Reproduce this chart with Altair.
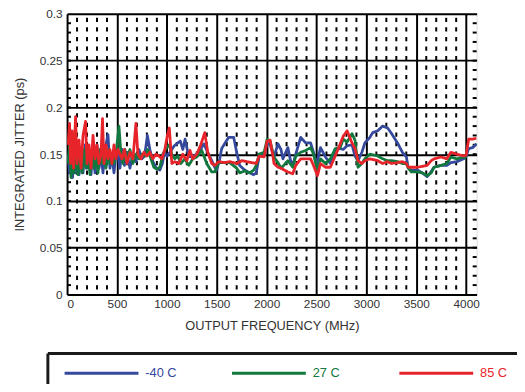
import altair as alt
import pandas as pd

# ---------------- data ----------------
series_names = ["-40 C", "27 C", "85 C"]
series_colors = ["#35499d", "#11793d", "#e8242b"]

freq_m40 = [10, 25, 40, 55, 70, 85, 100, 120, 140, 160, 180, 200, 220, 240, 260, 280, 300, 320, 340, 360, 380, 410, 430, 450, 470, 490,
            510, 530, 550, 575, 600, 630, 660, 690, 720, 750, 777, 805, 830, 860, 895, 930, 955, 975, 1000, 1030,
            1075, 1110, 1135, 1160, 1183, 1210, 1232, 1272, 1320, 1370, 1410, 1450, 1480, 1500, 1530, 1550, 1590, 1620, 1670, 1700,
            1730, 1780, 1830, 1870, 1896, 1926, 1975, 2005, 2035, 2074, 2114, 2144, 2163, 2213, 2240, 2262, 2292, 2342, 2391, 2441,
            2470, 2500, 2540, 2589, 2639, 2688, 2738, 2767, 2807, 2856, 2886, 2916, 2955, 2985, 3035, 3064, 3114, 3163, 3213, 3252,
            3312, 3361, 3401, 3420, 3450, 3510, 3560, 3609, 3640, 3678, 3748, 3807, 3847, 3906, 3975, 4000, 4025, 4064, 4105]
jit_m40 = [.15, .13, .165, .125, .155, .13, .16, .128, .15, .13, .16, .135, .15, .128, .155, .13, .16, .135, .15, .13, .155, .171, .135, .15, .13, .15,
           .15, .135, .155, .138, .152, .135, .15, .142, .155, .145, .148, .17, .155, .142, .135, .133, .14, .152, .148, .152,
           .159, .162, .164, .155, .166, .152, .147, .148, .152, .161, .152, .143, .136, .133, .145, .156, .163, .168, .168, .152,
           .138, .133, .13, .128, .13, .148, .15, .162, .16, .147, .161, .155, .145, .157, .143, .138, .15, .168, .162, .162,
           .152, .138, .157, .147, .14, .155, .156, .155, .159, .16, .148, .143, .152, .162, .168, .173, .175, .18, .178, .172,
           .162, .152, .147, .135, .133, .133, .13, .126, .13, .136, .138, .138, .141, .142, .145, .148, .156, .157, .161]

freq_27 = [10, 25, 40, 55, 70, 90, 110, 130, 150, 170, 190, 210, 230, 250, 270, 290, 310, 330, 350, 370, 390, 410, 430, 450, 470, 490, 520,
           540, 560, 580, 600, 630, 660, 690, 720, 750, 780, 810, 840, 870, 900, 930, 960, 990, 1025, 1050, 1080,
           1110, 1140, 1180, 1220, 1260, 1300, 1350, 1400, 1450, 1480, 1520, 1580, 1630, 1700, 1730, 1780, 1830, 1870, 1896, 1926,
           1975, 2005, 2035, 2074, 2114, 2144, 2163, 2213, 2262, 2292, 2342, 2391, 2441, 2470, 2510, 2540, 2589, 2639, 2688, 2738,
           2767, 2807, 2856, 2886, 2916, 2955, 2985, 3035, 3114, 3163, 3213, 3252, 3312, 3361, 3401, 3420, 3450, 3510, 3560, 3609,
           3650, 3678, 3748, 3807, 3847, 3906, 3975, 4000]
jit_27 = [.14, .16, .125, .15, .13, .155, .128, .15, .13, .155, .135, .15, .128, .155, .135, .15, .13, .155, .14, .15, .135, .155, .14, .15, .14, .15, .18,
          .15, .14, .155, .145, .155, .14, .15, .145, .15, .148, .155, .145, .136, .134, .136, .15, .156, .16, .15, .145,
          .148, .14, .145, .138, .145, .147, .154, .14, .131, .131, .141, .141, .141, .135, .13, .132, .13, .133, .138, .15,
          .152, .166, .164, .147, .141, .135, .137, .143, .136, .148, .152, .154, .157, .15, .133, .145, .14, .145, .156, .157,
          .166, .163, .172, .165, .136, .14, .145, .15, .148, .145, .143, .143, .142, .14, .14, .135, .131, .131, .13, .127,
          .13, .136, .138, .14, .147, .145, .147, .146]

freq_85 = [10, 25, 35, 50, 65, 85, 100, 120, 140, 160, 185, 200, 220, 240, 260, 280, 300, 320, 340, 355, 370, 390, 410, 430, 450, 470, 490, 510,
           530, 550, 575, 600, 630, 660, 690, 710, 740, 770, 800, 830, 860, 890, 920, 950, 980, 1005, 1025, 1050,
           1080, 1120, 1160, 1200, 1232, 1260, 1300, 1340, 1380, 1410, 1450, 1480, 1520, 1580, 1630, 1700, 1750, 1800, 1850, 1896,
           1926, 1975, 2005, 2035, 2060, 2074, 2114, 2144, 2213, 2262, 2292, 2342, 2391, 2441, 2470, 2510, 2540, 2589, 2639, 2688,
           2738, 2767, 2807, 2856, 2886, 2916, 2955, 2985, 3035, 3114, 3163, 3213, 3252, 3312, 3361, 3401, 3420, 3510, 3560, 3609,
           3650, 3678, 3748, 3807, 3847, 3906, 3975, 4000, 4025, 4064, 4105]
jit_85 = [.16, .183, .14, .175, .135, .19, .14, .165, .135, .17, .185, .14, .16, .135, .17, .145, .16, .14, .15, .188, .14, .16, .145, .155, .14, .16, .145, .155,
          .15, .145, .155, .14, .152, .145, .183, .15, .145, .152, .148, .152, .145, .15, .148, .145, .155, .17, .178, .14,
          .142, .14, .15, .143, .154, .145, .15, .16, .173, .152, .14, .138, .142, .141, .142, .14, .143, .142, .141, .14,
          .148, .147, .164, .165, .15, .14, .136, .135, .131, .129, .138, .145, .145, .145, .138, .127, .14, .136, .136, .148,
          .161, .169, .175, .162, .156, .143, .14, .143, .145, .143, .14, .142, .14, .141, .142, .14, .136, .136, .137, .138,
          .143, .145, .147, .145, .152, .15, .148, .149, .166, .166, .167]

x_major = [0, 500, 1000, 1500, 2000, 2500, 3000, 3500, 4000]
x_minor = [f for f in range(100, 4100, 100) if f % 500 != 0]
y_major = [0, 0.05, 0.1, 0.15, 0.2, 0.25, 0.3]
y_minor = [round(i * 0.01, 2) for i in range(1, 30)]

# ---------------- layout / style ----------------
W, H = 416, 285
FONT = "Liberation Sans"
TXT = "#333333"

xscale = alt.Scale(domain=[0, 4105], nice=False, zero=False)
yscale = alt.Scale(domain=[0, 0.3], nice=False)

x_axis = alt.Axis(values=x_major, format="d", grid=True, gridColor="black", gridWidth=2, gridOpacity=1,
                  ticks=False, domain=False, labelFont=FONT, labelFontSize=12, labelColor=TXT,
                  labelPadding=4, title="OUTPUT FREQUENCY (MHz)", titleFont=FONT, titleFontSize=13,
                  titleFontWeight="normal", titleColor=TXT, titlePadding=11)
y_axis = alt.Axis(values=y_major, format="~g", grid=True, gridColor="black", gridWidth=2, gridOpacity=1,
                  ticks=False, domain=False, labelFont=FONT, labelFontSize=12, labelColor=TXT,
                  labelPadding=5, title="INTEGRATED JITTER (ps)", titleFont=FONT, titleFontSize=13,
                  titleFontWeight="normal", titleColor=TXT, titlePadding=13)


def X(field):
    return alt.X(field, type="quantitative", scale=xscale, axis=x_axis)


def Y(field):
    return alt.Y(field, type="quantitative", scale=yscale, axis=y_axis)


layers = []

# minor dashed vertical grid lines
minor_df = pd.DataFrame({"f": x_minor})
layers.append(
    alt.Chart(minor_df).mark_rule(color="black", strokeWidth=2, strokeDash=[4.3, 5.4], strokeDashOffset=5.7)
    .encode(x=X("f"))
)

# minor ticks inside left / right borders
ytick_df = pd.DataFrame({"v": y_minor})
layers.append(
    alt.Chart(ytick_df).mark_rule(color="black", strokeWidth=2)
    .encode(y=Y("v"), x=alt.value(0), x2=alt.value(4))
)
layers.append(
    alt.Chart(ytick_df).mark_rule(color="black", strokeWidth=2)
    .encode(y=Y("v"), x=alt.value(W - 4), x2=alt.value(W))
)

# data lines
series_data = [(freq_m40, jit_m40), (freq_27, jit_27), (freq_85, jit_85)]
for name, color, (fr, jt) in zip(series_names, series_colors, series_data):
    df = pd.DataFrame({"freq": fr, "jitter": jt, "series": name})
    layers.append(
        alt.Chart(df).mark_line(color=color, strokeWidth=2.8, clip=True, strokeJoin="round")
        .encode(x=X("freq"), y=Y("jitter"), order="freq:Q")
    )

# custom legend box (below the plot)
one = pd.DataFrame({"k": [0]})
box_left, box_top = -19.5, 345
layers.append(alt.Chart(one).mark_rule(color="#1a1a1a", strokeWidth=3)
              .encode(x=alt.value(box_left), x2=alt.value(W + 60), y=alt.value(box_top)))
layers.append(alt.Chart(one).mark_rule(color="#1a1a1a", strokeWidth=3)
              .encode(x=alt.value(box_left), y=alt.value(box_top), y2=alt.value(box_top + 60)))

leg_y = 365
for i, (name, color) in enumerate(zip(series_names, series_colors)):
    x0 = -2.5 + i * 170
    ldf = pd.DataFrame({"series": [name]})
    layers.append(alt.Chart(ldf).mark_rule(color=color, strokeWidth=3)
                  .encode(x=alt.value(x0), x2=alt.value(x0 + 75), y=alt.value(leg_y)))
    layers.append(alt.Chart(ldf).mark_text(align="left", baseline="middle", font=FONT, fontSize=13, color=color)
                  .encode(x=alt.value(x0 + 82), y=alt.value(leg_y), text="series:N"))

chart = (
    alt.layer(*layers)
    .properties(width=W, height=H,
                padding={"left": 60, "top": 3, "right": 41, "bottom": 88},
                autosize=alt.AutoSizeParams(type="none"))
    .configure_view(stroke="black", strokeWidth=3)
    .configure(background="white")
)

chart.save("out.html", embed_options={"renderer": "svg", "actions": False})
